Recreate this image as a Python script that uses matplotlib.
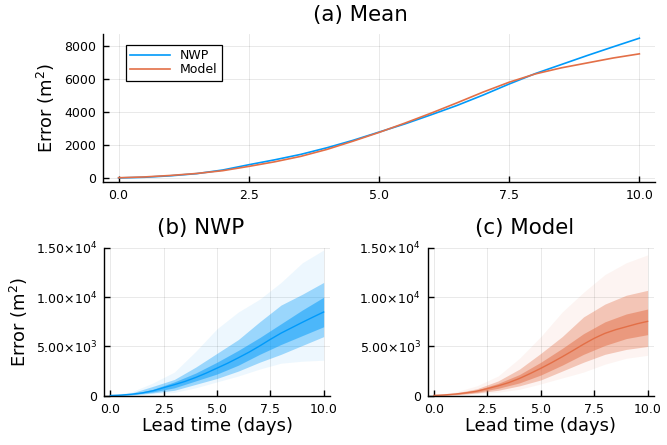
import matplotlib.pyplot as plt
import numpy as np

plt.rcParams['font.family'] = ['DejaVu Sans']
plt.rcParams['mathtext.fontset'] = 'dejavusans'

# lead times (days)
t_mean = np.arange(0, 10.5, 0.5)
nwp_mean = [20, 60, 150, 280, 500, 820, 1120, 1450, 1850, 2300, 2800,
            3300, 3850, 4420, 5050, 5720, 6350, 6900, 7450, 7980, 8500]
model_mean = [30, 80, 170, 290, 460, 720, 1000, 1330, 1750, 2250, 2780,
              3350, 3950, 4580, 5230, 5830, 6330, 6700, 7000, 7300, 7550]

# ensemble spread (daily)
t_day = np.arange(0, 11)
nwp_min = [0, 40, 160, 330, 800, 1400, 2000, 2700, 3300, 3500, 3600]
nwp_q10 = [0, 70, 280, 550, 1150, 1750, 2500, 3400, 4200, 5100, 6000]
nwp_q25 = [5, 110, 380, 800, 1500, 2200, 3100, 4200, 5200, 6100, 7000]
nwp_q75 = [30, 190, 650, 1400, 2300, 3400, 4600, 5900, 7300, 8700, 10000]
nwp_q90 = [50, 280, 950, 1650, 2900, 4300, 5700, 7500, 9200, 10300, 11500]
nwp_max = [80, 400, 1300, 2400, 4500, 6800, 8500, 9800, 11500, 13500, 14800]

model_min = [0, 50, 180, 350, 650, 1200, 1800, 2400, 3200, 3800, 4100]
model_q10 = [5, 90, 270, 550, 1000, 1600, 2500, 3400, 4200, 4700, 5000]
model_q25 = [15, 120, 350, 750, 1300, 2100, 3100, 4200, 5100, 5800, 6200]
model_q75 = [45, 220, 580, 1250, 2150, 3400, 4800, 6300, 7500, 8300, 8800]
model_q90 = [60, 280, 700, 1500, 2700, 4300, 6000, 8000, 9300, 10200, 10700]
model_max = [90, 380, 1000, 2000, 3800, 6000, 8500, 10500, 12300, 13500, 14300]

blue = '#009AFA'
orange = '#E36F47'

xticks = [0, 2.5, 5, 7.5, 10]
xticklabels = ['0.0', '2.5', '5.0', '7.5', '10.0']
bottom_yticks = [0, 5000, 10000, 15000]
bottom_ylabels = ['0', r'5.00×10$^{3}$', r'1.00×10$^{4}$', r'1.50×10$^{4}$']

fig = plt.figure(figsize=(6.67, 4.45), dpi=100)
ax1 = fig.add_axes([0.1544, 0.59, 0.8276, 0.3336])
ax2 = fig.add_axes([0.1559, 0.1108, 0.3389, 0.3319])
ax3 = fig.add_axes([0.6412, 0.1108, 0.3393, 0.3319])


def style(ax):
    for s in ['top', 'right']:
        ax.spines[s].set_visible(False)
    for s in ['left', 'bottom']:
        ax.spines[s].set_linewidth(1.0)
    ax.grid(True, color='black', alpha=0.1, linewidth=0.6)
    ax.set_axisbelow(True)
    ax.tick_params(direction='in', length=4, width=1, labelsize=9, pad=5)
    ax.set_xticks(xticks)
    ax.set_xticklabels(xticklabels)
    ax.set_xlim(-0.3, 10.3)


# (a) Mean
ax1.plot(t_mean, nwp_mean, color=blue, lw=1.2, label='NWP')
ax1.plot(t_mean, model_mean, color=orange, lw=1.2, label='Model')
style(ax1)
ax1.set_ylim(-255, 8755)
ax1.set_yticks([0, 2000, 4000, 6000, 8000])
ax1.set_ylabel(r'Error (m$^2$)', fontsize=12.9, labelpad=5)
ax1.set_title('(a) Mean', fontsize=15.4, pad=9, x=0.467)
leg = ax1.legend(loc='upper left', bbox_to_anchor=(0.03, 0.97), fontsize=9,
                 fancybox=False, framealpha=1, edgecolor='black',
                 handlelength=3.2, borderpad=0.35, labelspacing=0.1)
leg.get_frame().set_linewidth(0.9)


def ensemble(ax, lo, q10, q25, q75, q90, hi, mean, c, title):
    ax.fill_between(t_day, lo, hi, color=c, alpha=0.07, lw=0)
    ax.fill_between(t_day, q10, q90, color=c, alpha=0.35, lw=0)
    ax.fill_between(t_day, q25, q75, color=c, alpha=0.5, lw=0)
    ax.plot(t_mean, mean, color=c, lw=1.0)
    style(ax)
    ax.set_ylim(0, 15000)
    ax.set_yticks(bottom_yticks)
    ax.set_yticklabels(bottom_ylabels)
    ax.set_xlabel('Lead time (days)', fontsize=12.9, labelpad=1)
    ax.set_title(title, fontsize=15.4, pad=10, x=0.428)


ensemble(ax2, nwp_min, nwp_q10, nwp_q25, nwp_q75, nwp_q90, nwp_max,
         nwp_mean, blue, '(b) NWP')
ax2.set_ylabel(r'Error (m$^2$)', fontsize=12.9, labelpad=4)
ensemble(ax3, model_min, model_q10, model_q25, model_q75, model_q90, model_max,
         model_mean, orange, '(c) Model')

fig.savefig('out.png', dpi=100)
